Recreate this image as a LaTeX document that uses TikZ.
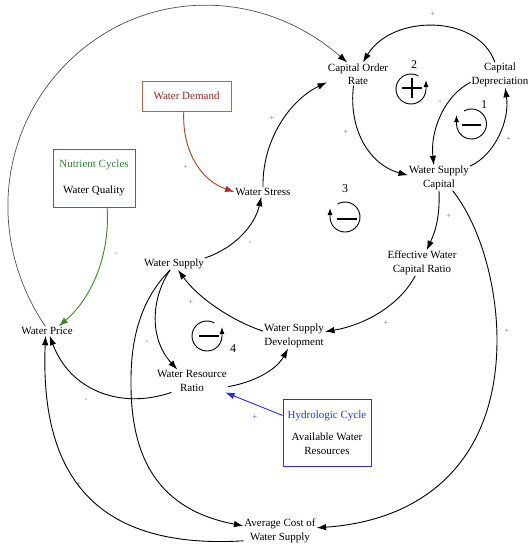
\documentclass[tikz,border=0pt]{standalone}
\usepackage{fontspec}
\setmainfont{Liberation Serif}
\usetikzlibrary{arrows.meta}
\definecolor{wdborder}{RGB}{170,105,80}
\definecolor{wdtext}{RGB}{150,40,30}
\definecolor{wdline}{RGB}{160,70,40}
\definecolor{wdtip}{RGB}{205,30,20}
\definecolor{ncgreen}{RGB}{50,130,50}
\definecolor{ncline}{RGB}{70,130,40}
\definecolor{hcblue}{RGB}{45,45,210}
\definecolor{sgngray}{RGB}{110,110,110}
\definecolor{arcgray}{RGB}{80,80,80}
\begin{document}
\begin{tikzpicture}[x=1pt,y=1pt,
  lbl/.style={font=\fontsize{11}{13.5}\selectfont, align=center, inner sep=1pt, outer sep=0pt},
  boxn/.style={draw, line width=0.9pt, font=\fontsize{11}{13.5}\selectfont, align=center, inner sep=2pt},
  sgn/.style={font=\fontsize{8}{8}\selectfont, text=sgngray, inner sep=0pt},
  lnum/.style={font=\fontsize{12}{12}\selectfont, inner sep=0pt},
  arr/.style={line width=0.9pt, -{Latex[length=9.5pt,width=6.5pt]}},
  thinarr/.style={line width=0.7pt, draw=arcgray, -{Latex[length=9.5pt,width=6.5pt,black]}},
  loopc/.style={line width=0.9pt, -{Latex[length=7pt,width=5pt]}},
  loopsign/.style={line width=1.5pt}]
\useasboundingbox[fill=white] (0,0) rectangle (532,-550);

% variables
\node[lbl] (cor)  at (358,-74)  {Capital Order\\Rate};
\node[lbl] (cd)   at (500,-75)  {Capital\\Depreciation};
\node[lbl] (wsc)  at (439,-178) {Water Supply\\Capital};
\node[lbl] (ewcr) at (422,-263) {Effective Water\\Capital Ratio};
\node[lbl] (wsd)  at (294,-336) {Water Supply\\Development};
\node[lbl] (wst)  at (263,-192) {Water Stress};
\node[lbl] (ws)   at (174,-264) {Water Supply};
\node[lbl] (wp)   at (47,-331)  {Water Price};
\node[lbl] (wrr)  at (192,-381) {Water Resource\\Ratio};
\node[lbl] (acws) at (280,-531) {Average Cost of\\Water Supply};

% boxes
\node[boxn, draw=wdborder, text=wdtext, minimum width=89pt, minimum height=30pt] (wd) at (186.5,-96) {Water Demand};
\node[boxn, draw=ncgreen, minimum width=82pt, minimum height=58pt] (nc) at (94,-178) {{\color{ncgreen}Nutrient Cycles}\\[12.5pt]Water Quality};
\node[boxn, draw=hcblue, minimum width=88pt, minimum height=67pt] (hc) at (327,-432.5) {{\color{hcblue}Hydrologic Cycle}\\[8.5pt]Available Water\\Resources};

% connectors
\draw[thinarr] (wp.110) .. controls (-15,-236.8) and (-0.7,-122.6) .. (76,-54.6)
   .. controls (152.7,13.4) and (264.3,9.8) .. (cor.133);
\draw[arr] (cd.112) .. controls (478,-14) and (392,-14) .. (cor.67);
\draw[arr] (cor.249) .. controls (348,-130) and (370,-165) .. (wsc.175);
\draw[arr] (cd.194) .. controls (445,-95) and (430,-130) .. (wsc.112);
\draw[arr] (wsc.21) .. controls (495,-155) and (510,-120) .. (cd.292);
\draw[arr] (wst.north) .. controls (262,-140) and (290,-100) .. (cor.195);
\draw[line width=0.9pt, draw=wdline, -{Latex[length=9.5pt,width=6.5pt,fill=wdtip]}] (wd.260) .. controls (182,-150) and (200,-180) .. (wst.west);
\draw[line width=0.9pt, draw=ncline, -{Latex[length=9.5pt,width=6.5pt,fill=ncline]}] (nc.294) .. controls (110,-250) and (95,-295) .. (wp.22);
\draw[arr] (ws.11) .. controls (235,-248) and (255,-225) .. (wst.250);
\draw[arr] (wsc.south) .. controls (440,-215) and (436,-230) .. (ewcr.70);
\draw[arr] (wsc.317) .. controls (480,-225) and (497,-285) .. (497,-340)
   .. controls (497,-455) and (430,-520) .. (acws.5);
\draw[arr] (ewcr.242) .. controls (400,-305) and (365,-325) .. (wsd.8);
\draw[arr] (wsd.171) .. controls (235,-322) and (200,-300) .. (ws.304);
\draw[arr] (wrr.351) .. controls (250,-383) and (275,-372) .. (wsd.245);
\draw[arr] (ws.237) .. controls (150,-300) and (150,-340) .. (wrr.142);
\draw[arr] (ws.237) .. controls (140,-300) and (131,-340) .. (131,-380)
   .. controls (130,-460) and (160,-510) .. (acws.172);
\draw[arr] (wrr.209) .. controls (120,-410) and (70,-390) .. (wp.299);
\draw[arr] (acws.195) .. controls (90,-550) and (40,-470) .. (wp.253);
\draw[line width=0.9pt, draw=hcblue, -{Latex[length=9.5pt,width=6.5pt,fill=hcblue]}] (hc.159) -- (wrr.341);

% polarity signs
\node[sgn] (s1)  at (433,-14)  {+};
\node[sgn] (s2)  at (440,-102) {-};
\node[sgn] (s3)  at (509,-139) {+};
\node[sgn] (s4)  at (346,-132) {+};
\node[sgn] (s5)  at (272,-118) {+};
\node[sgn] (s6)  at (449,-216) {+};
\node[sgn, text=wdborder] (s7) at (186,-167) {+};
\node[sgn] (s8)  at (116,-254) {-};
\node[sgn] (s9)  at (250,-243) {-};
\node[sgn] (s10) at (191,-302) {+};
\node[sgn] (s11) at (147,-342) {-};
\node[sgn] (s12) at (86,-400)  {-};
\node[sgn, text=hcblue] (s13) at (255,-417) {+};
\node[sgn] (s14) at (149,-470) {-};
\node[sgn] (s15) at (79,-484)  {+};
\node[sgn] (s16) at (386,-323) {+};
\node[sgn] (s17) at (507,-331) {+};

% loop 2 (reinforcing)
\draw[loopc] (411,-89) ++(60:15pt) arc[start angle=60, end angle=360, radius=15pt] -- ++(0,9pt);
\draw[loopsign] (402,-88) -- (422,-88);
\draw[loopsign] (412,-78) -- (412,-98);
\node[lnum] (n2) at (414,-65) {2};
% loop 1 (balancing)
\draw[loopc] (471.5,-124) ++(120:15pt) arc[start angle=120, end angle=-180, radius=15pt] -- ++(0,9pt);
\draw[loopsign] (462,-125) -- (481,-125);
\node[lnum] (n1) at (484,-105) {1};
% loop 3 (balancing)
\draw[loopc] (345,-217) ++(120:15pt) arc[start angle=120, end angle=-180, radius=15pt] -- ++(0,9pt);
\draw[loopsign] (337,-219) -- (357,-219);
\node[lnum] (n3) at (345,-189) {3};
% loop 4 (balancing)
\draw[loopc] (207,-336) ++(60:15pt) arc[start angle=60, end angle=360, radius=15pt] -- ++(0,9pt);
\draw[loopsign] (199,-336) -- (219,-336);
\node[lnum] (n4) at (233,-349) {4};
\end{tikzpicture}
\end{document}
